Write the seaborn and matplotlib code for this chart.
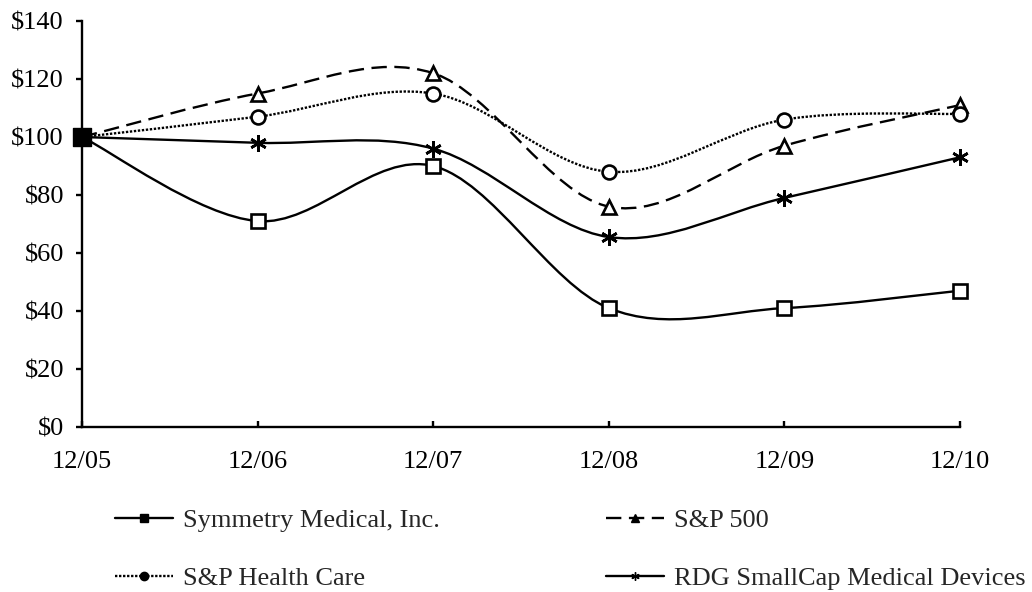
import matplotlib
matplotlib.use("Agg")
import matplotlib.pyplot as plt
import seaborn as sns
import pandas as pd
import numpy as np
from matplotlib.path import Path
from matplotlib.patches import PathPatch
from matplotlib.lines import Line2D

# ---- data ----
periods = ["12/05", "12/06", "12/07", "12/08", "12/09", "12/10"]
symmetry = [100, 71, 90, 41, 41, 47]
sp500 = [100, 115, 122, 76, 97, 111]
sp_health = [100, 107, 115, 88, 106, 108]
rdg_smallcap = [100, 98, 96, 65.5, 79, 93]
series_names = ["Symmetry Medical, Inc.", "S&P 500", "S&P Health Care",
                "RDG SmallCap Medical Devices"]
y_ticks = [0, 20, 40, 60, 80, 100, 120, 140]

series_vals = [symmetry, sp500, sp_health, rdg_smallcap]
rows = []
for name, vals in zip(series_names, series_vals):
    for i, (p, v) in enumerate(zip(periods, vals)):
        rows.append({"series": name, "pos": i, "period": p, "value": v})
df = pd.DataFrame(rows)

sns.set_theme(style="ticks")
plt.rcParams["font.family"] = ["Liberation Serif", "DejaVu Serif"]

fig = plt.figure(figsize=(10.32, 5.92), dpi=100)
ax = fig.add_axes([82 / 1032, 1 - 427 / 592, 878 / 1032, 406 / 592])

styles = {
    "Symmetry Medical, Inc.": dict(ls="-", marker="s", ms=10),
    "S&P 500": dict(ls=(0, (6.5, 3.2)), marker="^", ms=10),
    "S&P Health Care": dict(ls=(0, (1.0, 0.7)), marker="o", ms=10),
    "RDG SmallCap Medical Devices": dict(ls="-", marker=(6, 2, 0), ms=12),
}
LW = 1.7

def smooth_path(xs, ys):
    # Excel-style smoothed line: cubic Bezier segments through the data points
    pts = np.column_stack([xs, ys]).astype(float)
    n = len(pts)
    verts = [pts[0]]
    codes = [Path.MOVETO]
    for i in range(n - 1):
        p0 = pts[i - 1] if i > 0 else pts[i]
        p1 = pts[i]
        p2 = pts[i + 1]
        p3 = pts[i + 2] if i + 2 < n else pts[i + 1]
        c1 = p1 + (p2 - p0) / 6.0
        c2 = p2 - (p3 - p1) / 6.0
        verts += [c1, c2, p2]
        codes += [Path.CURVE4] * 3
    return Path(verts, codes)

for name in series_names:
    sub = df[df["series"] == name]
    st = styles[name]
    path = smooth_path(sub["pos"].values, sub["value"].values)
    ax.add_patch(PathPatch(path, fill=False, edgecolor="black", lw=LW,
                           linestyle=st["ls"], zorder=2, capstyle="butt",
                           clip_on=False))

for name in series_names:
    sub = df[df["series"] == name]
    st = styles[name]
    filled = st["marker"] == (6, 2, 0)
    sns.lineplot(data=sub, x="pos", y="value", ax=ax, linewidth=0,
                 marker=st["marker"], markersize=st["ms"],
                 markerfacecolor="black" if filled else "white",
                 markeredgecolor="black", markeredgewidth=1.9,
                 color="black", legend=False, zorder=3, estimator=None,
                 clip_on=False)

# first point looks like a filled square (all markers overlapping)
sns.scatterplot(x=[0], y=[symmetry[0]], ax=ax, marker="s", s=150,
                color="black", edgecolor="black", zorder=4, legend=False,
                clip_on=False)

ax.set_xlim(0, 5)
ax.set_ylim(0, 140)
ax.set_xticks(range(len(periods)))
ax.set_xticklabels(periods)
ax.set_yticks(y_ticks)
ax.set_yticklabels([f"${v}" for v in y_ticks])
ax.set_xlabel("")
ax.set_ylabel("")
for s in ["top", "right"]:
    ax.spines[s].set_visible(False)
for s in ["left", "bottom"]:
    ax.spines[s].set_linewidth(1.7)
    ax.spines[s].set_color("black")
ax.tick_params(axis="x", direction="in", length=4, width=1.7, pad=17,
               labelsize=19, colors="black")
ax.tick_params(axis="y", direction="out", length=4, width=1.7, pad=9,
               labelsize=19, colors="black")
ax.set_facecolor("white")
fig.patch.set_facecolor("white")

handles = {}
for name in series_names:
    st = styles[name]
    handles[name] = Line2D([], [], color="black", lw=LW, linestyle=st["ls"],
                           marker=st["marker"], markersize=6,
                           markerfacecolor="black", markeredgecolor="black")
order = ["Symmetry Medical, Inc.", "S&P Health Care", "S&P 500",
         "RDG SmallCap Medical Devices"]
fig.legend([handles[n] for n in order], order, ncol=2, frameon=False,
           loc="upper left", bbox_to_anchor=(115 / 1032, 1 - 509 / 592),
           borderaxespad=0, borderpad=0, fontsize=19, handlelength=2.2,
           handletextpad=0.38, columnspacing=6.3, labelspacing=1.3)

fig.savefig("out.png", dpi=100, facecolor="white")
